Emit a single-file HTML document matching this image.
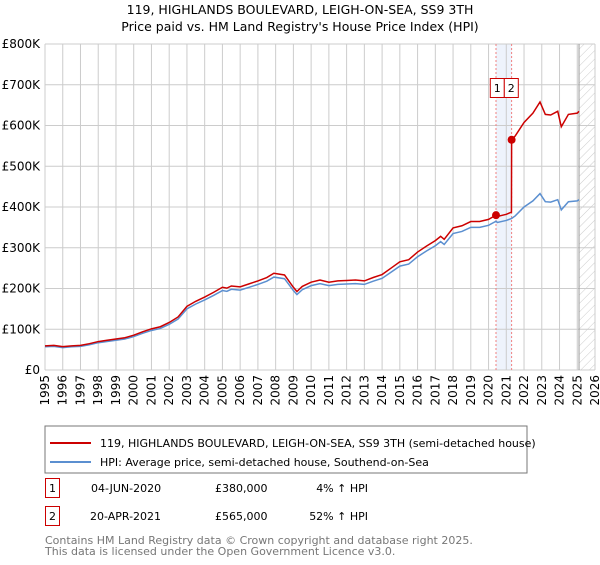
<!DOCTYPE html>
<html><head><meta charset="utf-8"><style>
body{margin:0;background:#fff;font-family:"Liberation Sans","DejaVu Sans",sans-serif;}
svg text{font-family:"DejaVu Sans","Liberation Sans",sans-serif;}
</style></head><body>
<svg id="chart" width="600" height="560" xmlns="http://www.w3.org/2000/svg">
<defs><pattern id="hatch" width="6" height="6" patternUnits="userSpaceOnUse" patternTransform="rotate(45)"><line x1="0" y1="0" x2="0" y2="6" stroke="#ccc" stroke-width="1"/></pattern></defs>
<text x="300" y="14" text-anchor="middle" font-size="12.5">119, HIGHLANDS BOULEVARD, LEIGH-ON-SEA, SS9 3TH</text>
<text x="300" y="31" text-anchor="middle" font-size="12.5">Price paid vs. HM Land Registry's House Price Index (HPI)</text>
<g id="grid"></g><g id="marks"></g><g id="axes"></g>
<rect x="45" y="426" width="482" height="47" fill="#fff" stroke="#777"/>
<line x1="50" y1="443" x2="91" y2="443" stroke="#cc0000" stroke-width="2"/>
<text x="100" y="447" font-size="11">119, HIGHLANDS BOULEVARD, LEIGH-ON-SEA, SS9 3TH (semi-detached house)</text>
<line x1="50" y1="462" x2="91" y2="462" stroke="#5b8fd0" stroke-width="2"/>
<text x="100" y="466" font-size="11">HPI: Average price, semi-detached house, Southend-on-Sea</text>
<g font-size="11">
<rect x="45.5" y="478.5" width="14" height="19" fill="#fff" stroke="#cc0000"/>
<text x="52.5" y="492" text-anchor="middle">1</text>
<text x="91" y="492">04-JUN-2020</text><text x="215" y="492">£380,000</text><text x="368" y="492" text-anchor="end">4% ↑ HPI</text>
<rect x="45.5" y="506.5" width="14" height="19" fill="#fff" stroke="#cc0000"/>
<text x="52.5" y="520" text-anchor="middle">2</text>
<text x="90" y="520">20-APR-2021</text><text x="215" y="520">£565,000</text><text x="368" y="520" text-anchor="end">52% ↑ HPI</text>
</g>
<text x="45" y="544" font-size="11" fill="#777">Contains HM Land Registry data © Crown copyright and database right 2025.</text>
<text x="45" y="555" font-size="11" fill="#777">This data is licensed under the Open Government Licence v3.0.</text>
</svg>
<script>
const hpiYears=[1995,1995.5,1996,1996.5,1997,1997.5,1998,1998.5,1999,1999.5,2000,2000.5,2001,2001.5,2002,2002.5,2003,2003.5,2004,2004.5,2005,2005.25,2005.5,2006,2006.5,2007,2007.5,2007.9,2008.5,2009,2009.2,2009.5,2010,2010.5,2011,2011.5,2012,2012.5,2013,2013.5,2014,2014.5,2015,2015.5,2016,2016.5,2017,2017.3,2017.5,2018,2018.5,2019,2019.5,2020,2020.42,2020.5,2021,2021.3,2021.5,2022,2022.5,2022.9,2023.2,2023.5,2023.9,2024.1,2024.5,2025,2025.1];
const hpiValues=[57,58,55,57,58,62,67,70,73,76,82,90,97,102,112,125,150,162,172,183,195,193,198,196,203,210,218,228,224,195,185,197,207,212,207,210,211,212,210,218,225,240,255,260,278,292,305,315,308,335,340,350,350,355,365,362,367,372,378,400,415,433,413,412,418,393,413,415,418];
const saleYears=[2020.42,2021.3];
const salePrices=[380,565];
const yTicks=[0,100,200,300,400,500,600,700,800];
const yTickLabels=["£0","£100K","£200K","£300K","£400K","£500K","£600K","£700K","£800K"];
const xTicks=[1995,1996,1997,1998,1999,2000,2001,2002,2003,2004,2005,2006,2007,2008,2009,2010,2011,2012,2013,2014,2015,2016,2017,2018,2019,2020,2021,2022,2023,2024,2025,2026];
const X0=45,X1=595,Y0=370,Y1=44;
const xs=v=>X0+(v-1995)/(2026-1995)*(X1-X0);
const ys=v=>Y0-(v/800)*(Y0-Y1);
const NS="http://www.w3.org/2000/svg";
function mk(parent,tag,attrs){const e=document.createElementNS(NS,tag);for(const k in attrs)e.setAttribute(k,attrs[k]);document.getElementById(parent).appendChild(e);return e;}
let b=mk('grid','rect',{x:xs(saleYears[0]),y:Y1,width:xs(saleYears[1])-xs(saleYears[0]),height:Y0-Y1,fill:'#eef3fc'});


let h=mk('grid','rect',{x:xs(2025.1),y:Y1,width:X1-xs(2025.1),height:Y0-Y1,fill:'url(#hatch)'});


yTicks.forEach((t,i)=>{
 let l=mk('grid','line',{x1:X0,x2:X1,y1:ys(t),y2:ys(t),stroke:'#ccc','stroke-width':1});
 
 
 let tx=mk('axes','text',{x:X0-5,y:ys(t)+4,'text-anchor':'end','font-size':12});
 
 
 tx.textContent=yTickLabels[i];
});
xTicks.forEach(t=>{
 let l=mk('grid','line',{x1:xs(t),x2:xs(t),y1:Y1,y2:Y0,stroke:'#ccc','stroke-width':1});
 
 
 let tx=mk('axes','text',{x:0,y:0,'text-anchor':'end','font-size':12,transform:`translate(${xs(t)+4},${Y0+5}) rotate(-90)`});
 
 
 tx.textContent=t;
});
let dl=mk('grid','line',{x1:xs(2025.1),x2:xs(2025.1),y1:Y1,y2:Y0,stroke:'#999','stroke-width':1});


saleYears.forEach((s,i)=>{
 let l=mk('grid','line',{x1:xs(s),x2:xs(s),y1:Y1,y2:Y0,stroke:'#f08080','stroke-width':1,'stroke-dasharray':'2,2'});
 
 
});
function interp(y){for(let i=1;i<hpiYears.length;i++){if(y<=hpiYears[i]){const f=(y-hpiYears[i-1])/(hpiYears[i]-hpiYears[i-1]);return hpiValues[i-1]+f*(hpiValues[i]-hpiValues[i-1]);}}return hpiValues[hpiValues.length-1];}
let pb=mk('marks','path',{d:hpiYears.map((y,i)=>(i?'L':'M')+xs(y)+','+ys(hpiValues[i])).join(''),fill:'none',stroke:'#5b8fd0','stroke-width':1.5});


const r0=salePrices[0]/interp(saleYears[0]),r1=salePrices[1]/interp(saleYears[1]);
let pts=[];
hpiYears.forEach((y,i)=>{if(y<saleYears[1])pts.push([y,hpiValues[i]*r0]);});
pts.push([saleYears[1]-0.01,interp(saleYears[1])*r0]);
pts.push([saleYears[1],salePrices[1]]);
hpiYears.forEach((y,i)=>{if(y>saleYears[1])pts.push([y,hpiValues[i]*r1]);});
let pr=mk('marks','path',{d:pts.map((p,i)=>(i?'L':'M')+xs(p[0])+','+ys(p[1])).join(''),fill:'none',stroke:'#cc0000','stroke-width':1.5});


saleYears.forEach((s,i)=>{
 let c=mk('marks','circle',{cx:xs(s),cy:ys(salePrices[i]),r:4,fill:'#cc0000'});
 
 
});
const mid=(xs(saleYears[0])+xs(saleYears[1]))/2;
saleYears.forEach((s,i)=>{
 const x=i==0?mid-14:mid;
 let r=mk('axes','rect',{x:x+0.5,y:78.5,width:14,height:19,fill:'#fff',stroke:'#cc0000'});
 
 
 let t=mk('axes','text',{x:x+7.5,y:92,'text-anchor':'middle','font-size':11});
 
 
 t.textContent=String(i+1);
});
</script>
</body></html>
